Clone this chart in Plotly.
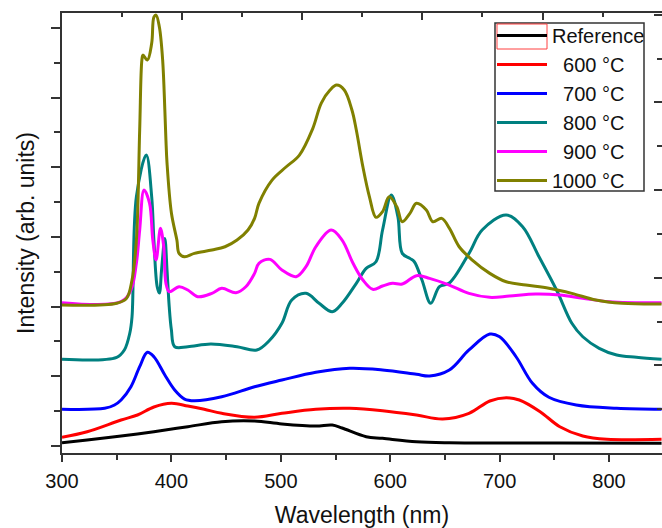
import plotly.graph_objects as go

# ---- data (wavelength in nm, intensity in arbitrary units) ----
ref_wl = [300, 323, 354, 384, 415, 446, 476, 501, 532, 547, 556, 578, 593, 624, 654, 700, 755, 848]
ref_int = [47, 86, 143, 205, 277, 349, 359, 316, 287, 301, 258, 133, 110, 62, 47, 43, 43, 40]

t600_wl = [300, 323, 354, 369, 384, 400, 415, 430, 446, 476, 501, 532, 563, 593, 624, 648, 672, 691, 706, 718, 737, 755, 776, 798, 848]
t600_int = [125, 205, 373, 445, 560, 613, 574, 527, 469, 412, 469, 527, 541, 507, 445, 387, 469, 646, 693, 660, 492, 277, 143, 96, 96]

t700_wl = [300, 339, 348, 354, 363, 371, 378, 384, 394, 403, 412, 421, 446, 476, 501, 532, 563, 593, 624, 636, 654, 672, 691, 700, 715, 730, 745, 770, 807, 848]
t700_int = [527, 541, 588, 660, 851, 1138, 1345, 1281, 1019, 804, 674, 650, 707, 851, 947, 1058, 1115, 1091, 1029, 1005, 1091, 1378, 1607, 1568, 1281, 900, 699, 588, 541, 527]

t800_wl = [300, 350, 357, 362, 364, 368, 377, 382, 384, 387, 389, 391, 394, 396, 398, 400, 403, 415, 436, 460, 478, 490, 501, 510, 523, 535, 547, 556, 569, 578, 587, 593, 601, 607, 611, 618, 622, 629, 637, 645, 654, 672, 684, 706, 721, 736, 752, 766, 776, 791, 807, 825, 848]
t800_int = [1244, 1273, 1378, 1622, 1855, 3577, 4176, 3573, 2956, 2286, 2196, 2526, 2980, 2526, 1999, 1665, 1425, 1425, 1464, 1425, 1378, 1521, 1761, 2095, 2191, 2048, 1927, 2048, 2335, 2550, 2645, 3100, 3602, 3290, 2765, 2693, 2645, 2382, 2048, 2286, 2339, 2765, 3100, 3315, 3147, 2716, 2239, 1761, 1568, 1402, 1306, 1273, 1244]

t900_wl = [300, 354, 363, 368, 371, 375, 380, 383, 386, 390, 393, 395, 398, 407, 415, 424, 437, 446, 459, 468, 476, 480, 490, 501, 514, 523, 532, 546, 556, 566, 575, 584, 593, 602, 611, 624, 636, 654, 672, 691, 709, 733, 755, 776, 800, 848]
t900_int = [2056, 2071, 2239, 2626, 3100, 3674, 3487, 2956, 2669, 3124, 2860, 2335, 2214, 2286, 2239, 2143, 2191, 2263, 2200, 2286, 2478, 2622, 2679, 2526, 2430, 2573, 2860, 3100, 2956, 2622, 2382, 2249, 2296, 2335, 2325, 2444, 2406, 2310, 2191, 2134, 2153, 2181, 2167, 2120, 2071, 2056]

t1000_wl = [300, 350, 359, 364, 368, 371, 373, 374, 378, 382, 384, 386, 389, 392, 394, 395, 396, 400, 405, 407, 412, 421, 437, 449, 460, 470, 476, 480, 492, 505, 517, 529, 537, 545, 551, 558, 565, 569, 575, 581, 587, 593, 599, 606, 611, 618, 624, 633, 639, 647, 654, 663, 675, 691, 706, 724, 745, 766, 788, 812, 848]
t1000_int = [2023, 2048, 2119, 2382, 2956, 4535, 5539, 5611, 5539, 5783, 6156, 6185, 6013, 5539, 4822, 4391, 4061, 3344, 2956, 2765, 2716, 2765, 2813, 2860, 2956, 3100, 3267, 3483, 3817, 4008, 4176, 4549, 4922, 5109, 5180, 5109, 4822, 4535, 4008, 3577, 3282, 3363, 3577, 3434, 3219, 3339, 3483, 3387, 3219, 3267, 3128, 2860, 2669, 2478, 2358, 2310, 2263, 2191, 2095, 2048, 2038]

names = ["Reference", "\u00a0\u00a0600 \u00b0C", "\u00a0\u00a0700 \u00b0C", "\u00a0\u00a0800 \u00b0C", "\u00a0\u00a0900 \u00b0C", "1000 \u00b0C"]
colors = ["#000000", "#ff0000", "#0000ff", "#008080", "#ff00ff", "#808000"]
series = [(ref_wl, ref_int), (t600_wl, t600_int), (t700_wl, t700_int),
          (t800_wl, t800_int), (t900_wl, t900_int), (t1000_wl, t1000_int)]

FONT = "Liberation Sans, Arial, sans-serif"
AX = "#333333"

fig = go.Figure()
for (wl, it), nm, c in zip(series, names, colors):
    fig.add_trace(go.Scatter(x=wl, y=it, name=nm, mode="lines",
                             line=dict(color=c, width=3, shape="spline", smoothing=1.0)))

# empty trace so that the secondary (top / right) tick axes are drawn
fig.add_trace(go.Scatter(x=[], y=[], xaxis="x2", yaxis="y2", showlegend=False,
                         hoverinfo="skip", mode="lines"))

W, H = 662, 528
L, T, B = 62, 13, 75
PW, PH = W - L, H - T - B


def px_x(p):
    return (p - L) / PW


def px_y(p):
    return 1 - (p - T) / PH


fig.update_layout(
    width=W, height=H,
    margin=dict(l=L, r=0, t=T, b=B, pad=0),
    paper_bgcolor="white", plot_bgcolor="white",
    font=dict(family=FONT, color="#111111", size=20),
    showlegend=True,
    legend=dict(x=px_x(492), y=px_y(16), xanchor="left", yanchor="top",
                bgcolor="rgba(0,0,0,0)", borderwidth=0,
                font=dict(family=FONT, size=20, color="#111111"),
                itemwidth=50, tracegroupgap=0),
    xaxis=dict(range=[300, 848.4], dtick=100, tick0=300,
               showline=True, linecolor=AX, linewidth=1.5,
               ticks="outside", ticklen=7, tickwidth=1.5, tickcolor=AX,
               minor=dict(dtick=50, ticklen=5, tickwidth=1.5, tickcolor=AX, ticks="outside"),
               showgrid=False, zeroline=False,
               tickfont=dict(size=20), ticklabelstandoff=2,
               title=dict(text="Wavelength (nm)", font=dict(size=23), standoff=18)),
    yaxis=dict(range=[-100.5, 6215], dtick=1000, tick0=0,
               showline=True, linecolor=AX, linewidth=1.5,
               ticks="outside", ticklen=9, tickwidth=1.5, tickcolor=AX,
               minor=dict(dtick=500, ticklen=6, tickwidth=1.5, tickcolor=AX, ticks="outside"),
               showticklabels=False, showgrid=False, zeroline=False,
               title=dict(text="Intensity (arb. units)", font=dict(size=23), standoff=10)),
    xaxis2=dict(overlaying="x", side="top", anchor="y", range=[0, 599.3], dtick=120, tick0=0,
                showline=True, linecolor=AX, linewidth=1.5,
                ticks="inside", ticklen=7, tickwidth=1.5, tickcolor=AX,
                minor=dict(dtick=60, ticklen=4, tickwidth=1.5, tickcolor=AX, ticks="inside"),
                showticklabels=False, showgrid=False, zeroline=False),
    yaxis2=dict(overlaying="y", side="right", anchor="x", range=[0, 5.019], dtick=1, tick0=0,
                showline=False,
                ticks="inside", ticklen=8, tickwidth=1.5, tickcolor=AX,
                minor=dict(dtick=0.5, ticklen=5, tickwidth=1.5, tickcolor=AX, ticks="inside"),
                showticklabels=False, showgrid=False, zeroline=False),
)

# legend frame
fig.add_shape(type="rect", xref="paper", yref="paper",
              x0=px_x(495), x1=px_x(644), y0=px_y(191), y1=px_y(23),
              line=dict(color=AX, width=1.5), fillcolor="white", layer="above")
# red selection rectangle around the Reference legend sample
fig.add_shape(type="rect", xref="paper", yref="paper",
              x0=px_x(497), x1=px_x(547), y0=px_y(49), y1=px_y(24),
              line=dict(color="#ff4040", width=1), fillcolor="rgba(0,0,0,0)", layer="above")

fig.write_html("out.html")
